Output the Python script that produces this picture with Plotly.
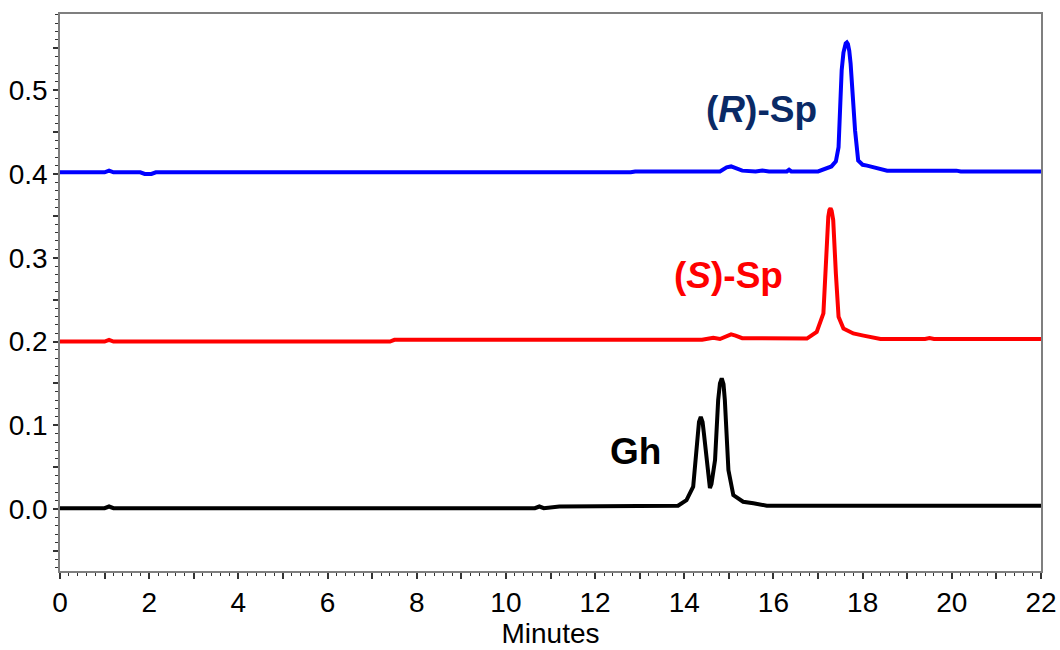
import plotly.graph_objects as go

# ---- data ----
r_time = [0.0, 1.0, 1.1, 1.2, 1.8, 1.9, 2.05, 2.15, 12.8, 12.9, 14.8, 14.95, 15.05, 15.15, 15.3, 15.6,
          15.75, 15.9, 16.3, 16.35, 16.4, 17.0, 17.1, 17.3, 17.4, 17.46, 17.5, 17.53, 17.57, 17.6, 17.62,
          17.645, 17.67, 17.7, 17.73, 17.78, 17.83, 17.9, 18.0, 18.1, 18.4, 18.55, 20.1, 20.2, 22.0]
r_value = [0.402, 0.402, 0.404, 0.402, 0.402, 0.400, 0.400, 0.402, 0.402, 0.403, 0.403, 0.408, 0.409,
           0.407, 0.404, 0.403, 0.404, 0.403, 0.403, 0.405, 0.403, 0.403, 0.405, 0.409, 0.415, 0.432,
           0.485, 0.524, 0.545, 0.553, 0.556, 0.557, 0.555, 0.547, 0.532, 0.492, 0.452, 0.416, 0.411,
           0.410, 0.406, 0.404, 0.404, 0.403, 0.403]

s_time = [0.0, 1.0, 1.1, 1.2, 7.4, 7.5, 14.4, 14.55, 14.65, 14.8, 14.95, 15.05, 15.15, 15.3, 16.75,
          16.97, 17.12, 17.18, 17.23, 17.255, 17.28, 17.305, 17.34, 17.40, 17.46, 17.57, 17.79, 18.02,
          18.24, 18.4, 19.4, 19.5, 19.6, 22.0]
s_value = [0.200, 0.200, 0.202, 0.200, 0.200, 0.202, 0.202, 0.204, 0.2045, 0.203, 0.207, 0.2085,
           0.207, 0.204, 0.2035, 0.2115, 0.2335, 0.301, 0.349, 0.357, 0.359, 0.356, 0.345, 0.281,
           0.2295, 0.2156, 0.2096, 0.207, 0.2045, 0.203, 0.203, 0.204, 0.203, 0.203]

gh_time = [0.0, 1.0, 1.1, 1.2, 10.65, 10.75, 10.85, 11.1, 11.2, 13.86, 14.05, 14.20, 14.29, 14.33,
           14.37, 14.41, 14.44, 14.54, 14.575, 14.61, 14.69, 14.76, 14.80, 14.84, 14.88, 14.91, 14.99,
           15.10, 15.32, 15.55, 15.85, 22.0]
gh_value = [0.001, 0.001, 0.003, 0.001, 0.001, 0.003, 0.001, 0.002, 0.003, 0.004, 0.0107, 0.0266,
            0.086, 0.104, 0.110, 0.104, 0.0904, 0.0346, 0.025, 0.030, 0.0585, 0.130, 0.150, 0.156,
            0.149, 0.130, 0.0465, 0.0167, 0.0087, 0.0068, 0.004, 0.004]

x_tick_vals = list(range(0, 23))
x_tick_text = [str(v) if v % 2 == 0 else "" for v in x_tick_vals]
y_tick_vals = [round(-0.05 + 0.05 * i, 2) for i in range(13)]
y_tick_text = [f"{v:.1f}" if abs(round(v * 10) - v * 10) < 1e-6 else "" for v in y_tick_vals]

labels = ["(<i>R</i>)-Sp", "(<i>S</i>)-Sp", "Gh"]
label_x = [15.73, 14.99, 12.91]
label_y = [0.477, 0.279, 0.069]
label_colors = ["#0A2A66", "#FF0000", "#000000"]

FONT = "Arial, Liberation Sans, sans-serif"

fig = go.Figure()
fig.add_trace(go.Scatter(x=gh_time, y=gh_value, mode="lines",
                         line=dict(color="#000000", width=4),
                         showlegend=False, hoverinfo="skip"))
fig.add_trace(go.Scatter(x=s_time, y=s_value, mode="lines",
                         line=dict(color="#FF0000", width=4),
                         showlegend=False, hoverinfo="skip"))
fig.add_trace(go.Scatter(x=r_time, y=r_value, mode="lines",
                         line=dict(color="#0000FF", width=4),
                         showlegend=False, hoverinfo="skip"))

for t, x, y, c in zip(labels, label_x, label_y, label_colors):
    fig.add_annotation(x=x, y=y, xref="x", yref="y", text=f"<b>{t}</b>", showarrow=False,
                       font=dict(family=FONT, size=37, color=c), xanchor="center", yanchor="middle")

fig.update_layout(
    width=1060, height=650,
    margin=dict(l=60, r=19, t=14, b=79),
    paper_bgcolor="white", plot_bgcolor="white",
    font=dict(family=FONT, size=28, color="#000000"),
    xaxis=dict(range=[0, 22], tickmode="array", tickvals=x_tick_vals, ticktext=x_tick_text,
               ticks="outside", ticklen=6, tickwidth=1.5, tickcolor="#333333",
               minor=dict(dtick=0.2, tick0=0, ticks="outside", ticklen=3, tickwidth=1, tickcolor="#333333"),
               showline=True, linecolor="#7F7F7F", linewidth=1.5, mirror=True, showgrid=False,
               zeroline=False, tickfont=dict(size=28, color="#000000"), automargin=False,
               title=dict(text="Minutes", font=dict(size=28, color="#000000"), standoff=6)),
    yaxis=dict(range=[-0.074, 0.591], tickmode="array", tickvals=y_tick_vals, ticktext=y_tick_text,
               ticks="outside", ticklen=5, tickwidth=1.5, tickcolor="#333333",
               minor=dict(dtick=0.01, tick0=0, ticks="outside", ticklen=3, tickwidth=1, tickcolor="#333333"),
               showline=True, linecolor="#7F7F7F", linewidth=1.5, mirror=True, showgrid=False,
               zeroline=False, tickfont=dict(size=28, color="#000000"), automargin=False),
)

fig.write_html("out.html", config={"displayModeBar": False},
               post_script="document.body.style.margin='0';document.body.style.overflow='hidden';")
